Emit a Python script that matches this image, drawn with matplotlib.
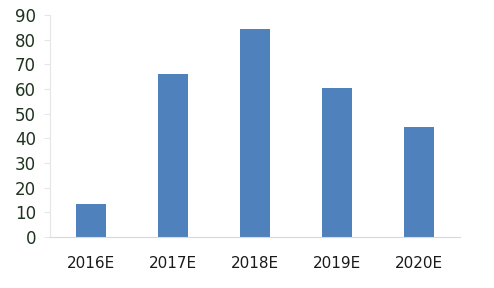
import matplotlib.pyplot as plt
import numpy as np

years = ['2016E', '2017E', '2018E', '2019E', '2020E']
values = [13.5, 66, 84.5, 60.5, 44.5]

fig = plt.figure(figsize=(4.94, 2.88), dpi=100)
ax = fig.add_axes([0.101, 0.177, 0.830, 0.771])

x = np.arange(len(years))
ax.bar(x, values, width=0.37, color='#4f81bd')

ax.set_xlim(-0.5, len(years) - 0.5)
ax.set_ylim(0, 90)
ax.set_yticks(range(0, 91, 10))
ax.set_xticks(x)
ax.set_xticklabels(years)

for s in ['top', 'right']:
    ax.spines[s].set_visible(False)
ax.spines['left'].set_color('#e6e6e6')
ax.spines['bottom'].set_color('#d9d9d9')
ax.tick_params(axis='y', length=4, color='#e6e6e6', labelsize=12,
               labelcolor='#1f331f', pad=6)
ax.tick_params(axis='x', length=0, labelsize=11, labelcolor='#1a1a1a', pad=14)

fig.savefig('out.png', dpi=100)
